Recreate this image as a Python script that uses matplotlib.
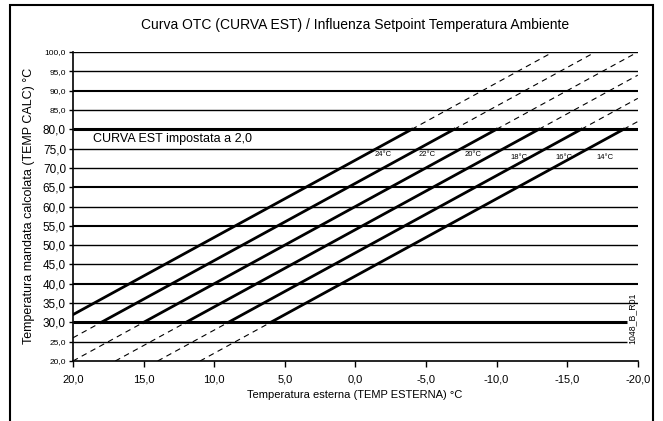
import matplotlib.pyplot as plt
from matplotlib.patches import Rectangle

plt.rcParams['font.family'] = ['Liberation Sans', 'DejaVu Sans']

# curve labels (room setpoint) and the points
labels = ["24°C", "22°C", "20°C", "18°C", "16°C", "14°C"]
# solid part (between 30 and 80 °C flow)
solid_ext = [[20, -4], [18, -7], [15, -10], [12, -13], [9, -16], [6, -19]]
solid_flow = [[32, 80], [30, 80], [30, 80], [30, 80], [30, 80], [30, 80]]
# dashed part below 30
low_ext = [[], [20, 18], [20, 15], [17, 12], [14, 9], [11, 6]]
low_flow = [[], [26, 30], [20, 30], [20, 30], [20, 30], [20, 30]]
# dashed part above 80
high_ext = [[-4, -14], [-7, -17], [-10, -20], [-13, -20], [-16, -20], [-19, -20]]
high_flow = [[80, 100], [80, 100], [80, 100], [80, 94], [80, 88], [80, 82]]
# label positions
label_x = [-2.0, -5.1, -8.3, -11.6, -14.8, -17.7]
label_y = [73.4, 73.4, 73.4, 72.8, 72.8, 72.8]

y_ticks = [20, 25, 30, 35, 40, 45, 50, 55, 60, 65, 70, 75, 80, 85, 90, 95, 100]
x_ticks = [20, 15, 10, 5, 0, -5, -10, -15, -20]

fig = plt.figure(figsize=(6.63, 4.21), dpi=100)
ax = fig.add_axes([0.110, 0.1425, 0.852, 0.734])

# horizontal grid lines
for v in y_ticks:
    if v == 20:
        continue
    if v in (30, 80):
        lw = 2.2
    elif v in (40, 55, 65, 90):
        lw = 1.5
    else:
        lw = 1.0
    x_end = -19.2 if v in (25, 30) else -20
    ax.hlines(v, 20, x_end, color='black', lw=lw)

for i in range(len(labels)):
    ax.plot(solid_ext[i], solid_flow[i], color='black', lw=2.0)
    if low_ext[i]:
        ax.plot(low_ext[i], low_flow[i], color='black', lw=0.8, ls=(0, (5, 4)))
    ax.plot(high_ext[i], high_flow[i], color='black', lw=0.8, ls=(0, (5, 4)))
    ax.text(label_x[i], label_y[i], labels[i], fontsize=5.5, ha='center', va='center')

ax.text(18.6, 77.4, "CURVA EST impostata a 2,0", fontsize=9, ha='left', va='center')
ax.text(-19.6, 31.0, "1048_B_R01", fontsize=6.3, rotation=90, ha='center', va='center')

ax.set_xlim(20, -20)
ax.set_ylim(20, 100)
ax.set_xticks(x_ticks)
ax.set_xticklabels([f"{v:.1f}".replace('.', ',') for v in x_ticks], fontsize=8)
ax.set_yticks(y_ticks)
ax.set_yticklabels([f"{v:.1f}".replace('.', ',') for v in y_ticks])
for v, t in zip(y_ticks, ax.get_yticklabels()):
    t.set_fontsize(8.5 if 30 <= v <= 80 else 6)

ax.spines['right'].set_visible(False)
ax.spines['top'].set_visible(False)
ax.spines['left'].set_linewidth(1.2)
ax.spines['bottom'].set_linewidth(1.2)
ax.tick_params(axis='both', length=4, width=1.0, color='black')
ax.tick_params(axis='y', length=3, pad=2)
ax.tick_params(axis='x', pad=6)

fig.text(0.535, 0.941, "Curva OTC (CURVA EST) / Influenza Setpoint Temperatura Ambiente",
         fontsize=10, ha='center', va='center')
fig.text(0.535, 0.062, "Temperatura esterna (TEMP ESTERNA) °C", fontsize=8, ha='center', va='center')
fig.text(0.043, 0.51, "Temperatura mandata calcolata (TEMP CALC) °C", fontsize=9,
         rotation=90, ha='center', va='center')

fig.patches.append(Rectangle((0.015, -0.02), 0.97, 1.008, transform=fig.transFigure,
                             fill=False, edgecolor='black', lw=1.5))

plt.savefig("out.png", dpi=100)
